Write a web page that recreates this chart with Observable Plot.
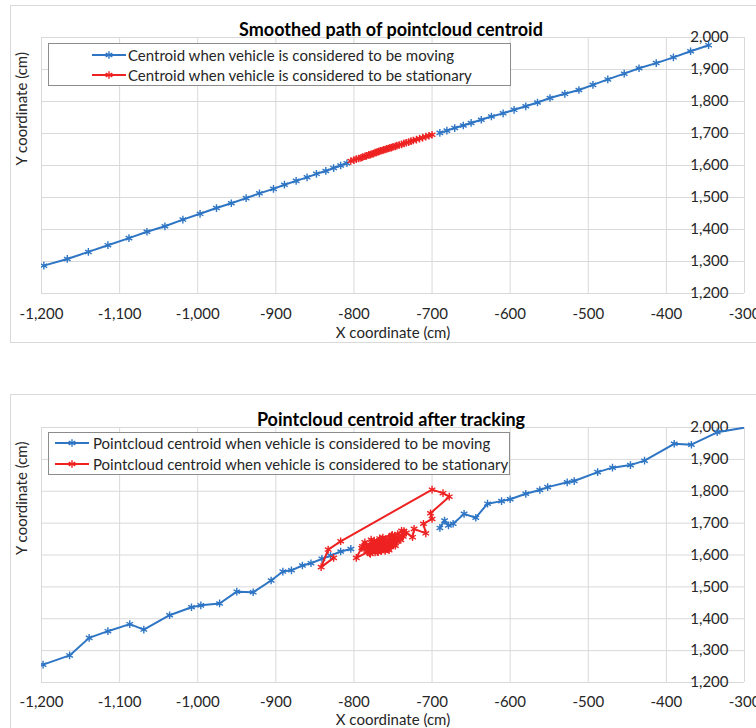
<!DOCTYPE html>
<html><head><meta charset="utf-8">
<script src="https://cdn.jsdelivr.net/npm/d3@7"></script>
<script src="https://cdn.jsdelivr.net/npm/@observablehq/plot@0.6"></script>
<style>
body{margin:0;background:#fff;font-family:Lato, "Open Sans", sans-serif}
#wrap{position:relative;width:756px;height:728px;overflow:hidden;background:#fff}
.panel{position:absolute;left:10px;width:760px;border:1px solid #d9d9d9;box-sizing:border-box}
.chart{position:absolute;left:0}
.legend{position:absolute;border:1px solid #8c8c8c;background:#fff;font-size:15px;color:#262626;box-sizing:border-box}
.row{position:absolute;height:20px;line-height:20px;white-space:nowrap}
.row svg{position:absolute;top:5px}
.row span{position:absolute;top:0}
</style>
</head><body>
<div id="wrap">
  <div class="panel" style="top:5px;height:338px"></div>
  <div class="panel" style="top:394px;height:400px"></div>
</div>
<script>
// ---------- data ----------
const xTicks = [-1200,-1100,-1000,-900,-800,-700,-600,-500,-400,-300];
const yTicks = [1200,1300,1400,1500,1600,1700,1800,1900,2000];

const titleTop = "Smoothed path of pointcloud centroid";
const titleBottom = "Pointcloud centroid after tracking";
const xLabel = "X coordinate (cm)";
const yLabel = "Y coordinate (cm)";
const legendTop = ["Centroid when vehicle is considered to be moving", "Centroid when vehicle is considered to be stationary"];
const legendBottom = ["Pointcloud centroid when vehicle is considered to be moving", "Pointcloud centroid when vehicle is considered to be stationary"];

// Top chart: smoothed path
const smoothMovingBeforeX = [-1197,-1167,-1140,-1115,-1088,-1065,-1042,-1019,-997,-976,-957,-938,-921,-903,-889,-874,-860,-848,-836,-826,-817,-809];
const smoothMovingBeforeY = [1287,1308,1330,1351,1373,1393,1410,1431,1449,1467,1482,1498,1513,1527,1540,1552,1563,1574,1583,1592,1600,1607];
const smoothMovingAfterX = [-690,-681,-671,-660,-650,-637,-624,-609,-595,-580,-565,-549,-530,-512,-494,-475,-454,-435,-413,-391,-369,-346];
const smoothMovingAfterY = [1702,1709,1717,1725,1733,1743,1753,1763,1774,1785,1797,1811,1824,1836,1852,1869,1887,1904,1920,1938,1957,1976];
const smoothStationaryX = [-804,-800,-797,-794,-791,-789,-786,-784,-781,-779,-777,-775,-773,-771,-769,-768,-766,-764,-762,-760,-758,-756,-754,-752,-750,-747,-745,-742,-739,-736,-733,-730,-727,-724,-720,-716,-712,-708,-704,-700];
const smoothStationaryY = [1614,1617,1620,1622,1624,1626,1629,1630,1633,1634,1636,1637,1640,1641,1643,1644,1646,1647,1649,1650,1652,1653,1655,1656,1658,1660,1662,1664,1666,1669,1671,1673,1676,1678,1681,1684,1687,1690,1693,1696];

// Bottom chart: after tracking
const trackMovingBeforeX = [-1198,-1164,-1139,-1115,-1087,-1069,-1036,-1008,-996,-972,-950,-929,-906,-891,-880,-866,-855,-841,-830,-817,-804];
const trackMovingBeforeY = [1256,1285,1340,1361,1383,1366,1411,1436,1442,1448,1485,1483,1520,1548,1552,1567,1574,1588,1598,1611,1619];
const trackMovingAfterX = [-690,-684,-679,-673,-659,-644,-629,-611,-600,-580,-562,-552,-527,-518,-488,-469,-446,-428,-390,-368,-335,-290];
const trackMovingAfterY = [1685,1708,1693,1698,1729,1717,1761,1769,1775,1792,1804,1813,1828,1832,1860,1874,1882,1896,1949,1946,1985,2004];
const trackStationaryX = [-826,-842,-833,-817,-700,-686,-678,-702,-700,-711,-708,-723,-725,-736,
  -739,-733,-747,-737,-744,-760,-753,-740,-748,-765,-779,-771,-763,-756,-742,-750,-767,-782,-775,-759,-745,-754,-766,-773,-761,-749,-757,-769,-778,-752,-764,-755,-760,-770,-766,-775,-783,-790,-786,-779,-768,-774,
  -762,-771,-758,-748,-756,-765,-776,-784,-772,-761,-753,-744,-751,-763,-774,-781,-769,-757,-746,-738,-750,-759,-767,-777,-787,-780,-770,-762,-755,-747,-741,-752,-764,-773,-778,-766,-758,-768,
  -797,-789];
const trackStationaryY = [1591,1562,1617,1643,1805,1794,1783,1731,1713,1698,1668,1682,1656,1675,
  1676,1670,1637,1658,1666,1645,1626,1647,1660,1640,1603,1615,1621,1638,1652,1630,1646,1624,1633,1619,1642,1655,1628,1608,1636,1648,1622,1638,1618,1644,1650,1632,1613,1610,1617,1625,1612,1622,1640,1630,1633,1645,
  1630,1626,1645,1652,1618,1612,1620,1631,1637,1624,1640,1650,1663,1655,1629,1616,1609,1632,1645,1661,1638,1627,1652,1642,1619,1606,1622,1641,1615,1629,1654,1660,1634,1621,1648,1636,1643,1627,
  1591,1627];

// ---------- drawing ----------
const BLUE = "#2e75c4";
const RED = "#ee2222";
const GRID = "#d9d9d9";
const fmt = d => d3.format(",")(d).replace("\u2212", "-");

function rows(xs, ys, seg) { return xs.map((x, i) => ({x, y: ys[i], seg})); }

function makeChart({title, moving, stationary, height, marginBottom, tickPad, labelDy}) {
  return Plot.plot({
    width: 756, height,
    marginLeft: 41, marginRight: 12, marginTop: 37, marginBottom,
    style: {fontFamily: "Lato, 'Open Sans', sans-serif", fontSize: "15px", color: "#262626", background: "transparent"},
    x: {domain: [-1200, -300], label: null},
    y: {domain: [1200, 2000], label: null},
    marks: [
      Plot.gridX({ticks: xTicks, stroke: GRID, strokeOpacity: 1, strokeWidth: 1}),
      Plot.gridY({ticks: yTicks, stroke: GRID, strokeOpacity: 1, strokeWidth: 1}),
      Plot.axisX({ticks: xTicks, tickFormat: fmt, tickSize: 0, tickPadding: tickPad, label: null, fontSize: 15}),
      Plot.axisY({anchor: "right", ticks: yTicks, tickFormat: fmt, tickSize: 0, tickPadding: 0, dx: -16, textAnchor: "end", label: null, fontSize: 15}),
      Plot.line(moving, {x: "x", y: "y", z: "seg", stroke: BLUE, strokeWidth: 2, clip: true}),
      Plot.dot(moving, {x: "x", y: "y", symbol: "asterisk", r: 3.6, stroke: BLUE, strokeWidth: 1.4, clip: true}),
      Plot.line(stationary, {x: "x", y: "y", stroke: RED, strokeWidth: 2, clip: true}),
      Plot.dot(stationary, {x: "x", y: "y", symbol: "asterisk", r: 3.6, stroke: RED, strokeWidth: 1.4, clip: true}),
      Plot.text([title], {frameAnchor: "top", lineAnchor: "middle", dy: -7, dx: -2, fontWeight: "bold", fontSize: 18, fill: "#000"}),
      Plot.text([xLabel], {frameAnchor: "bottom", lineAnchor: "middle", dy: labelDy, fontSize: 15, fill: "#262626"}),
      Plot.text([yLabel], {frameAnchor: "left", lineAnchor: "middle", dx: -19, rotate: -90, fontSize: 15, fill: "#262626"})
    ]
  });
}

function legend(texts, box, lineLeft, textLeft, rowTops) {
  const div = document.createElement("div");
  div.className = "legend";
  Object.assign(div.style, {left: box[0] + "px", top: box[1] + "px", width: box[2] + "px", height: box[3] + "px"});
  [BLUE, RED].forEach((c, i) => {
    const r = document.createElement("div");
    r.className = "row";
    r.style.top = rowTops[i] + "px";
    r.style.left = "0px";
    r.innerHTML = `<svg width="34" height="10" style="left:${lineLeft}px">
      <line x1="0" y1="5" x2="34" y2="5" stroke="${c}" stroke-width="2"/>
      <g stroke="${c}" stroke-width="1.4"><line x1="17" y1="1.2" x2="17" y2="8.8"/><line x1="13.7" y1="3.1" x2="20.3" y2="6.9"/><line x1="13.7" y1="6.9" x2="20.3" y2="3.1"/></g></svg>
      <span style="left:${textLeft}px">${texts[i]}</span>`;
    div.appendChild(r);
  });
  return div;
}

const wrap = document.getElementById("wrap");

const top1 = makeChart({
  title: titleTop,
  moving: [...rows(smoothMovingBeforeX, smoothMovingBeforeY, 0), ...rows(smoothMovingAfterX, smoothMovingAfterY, 1)],
  stationary: rows(smoothStationaryX, smoothStationaryY, 0),
  height: 345, marginBottom: 52, tickPad: 15, labelDy: 40
});
top1.classList.add("chart"); top1.style.top = "0px";
wrap.appendChild(top1);

const bot = makeChart({
  title: titleBottom,
  moving: [...rows(trackMovingBeforeX, trackMovingBeforeY, 0), ...rows(trackMovingAfterX, trackMovingAfterY, 1)],
  stationary: rows(trackStationaryX, trackStationaryY, 0),
  height: 338, marginBottom: 46, tickPad: 14, labelDy: 38
});
bot.classList.add("chart"); bot.style.top = "390px";
wrap.appendChild(bot);

wrap.appendChild(legend(legendTop, [48, 43, 463, 43], 43, 79, [1, 21]));
wrap.appendChild(legend(legendBottom, [48, 432, 462, 43], 6, 44, [0, 21]));
</script>
</body></html>
